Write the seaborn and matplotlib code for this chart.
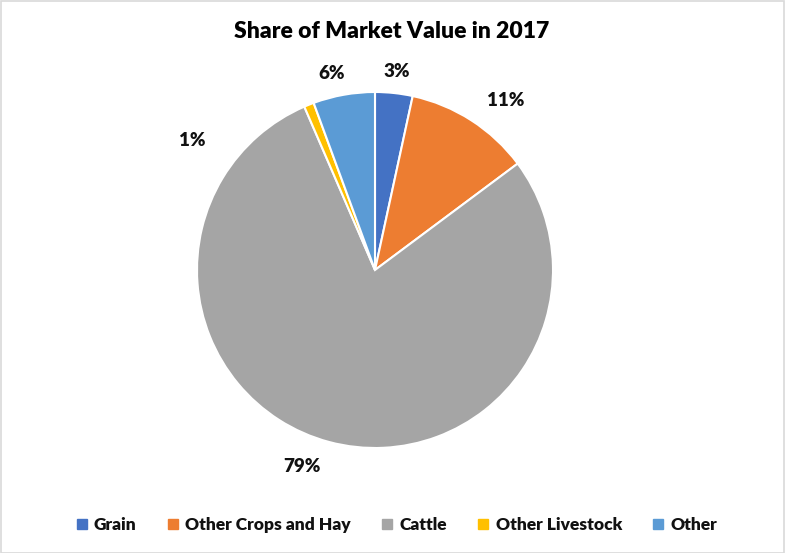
import numpy as np
import matplotlib
matplotlib.use("Agg")
import matplotlib.pyplot as plt
import seaborn as sns
from matplotlib.lines import Line2D
from matplotlib.patches import Rectangle

# Data
categories = ["Grain", "Other Crops and Hay", "Cattle", "Other Livestock", "Other"]
shares = [3.4, 11.4, 78.7, 0.9, 5.6]
colors = ["#4472C4", "#ED7D31", "#A5A5A5", "#FFC000", "#5B9BD5"]
title = "Share of Market Value in 2017"

# Label placement (angle in degrees clockwise from 12 o'clock, radius as pie fraction)
label_angles = [6.3, 37.6, 200.3, 305.4, 347.6]
label_radii = [1.12, 1.20, 1.18, 1.26, 1.13]

sns.set_theme(style="white")
plt.rcParams["font.family"] = ["Lato", "DejaVu Sans"]

W, H = 785, 553
fig = plt.figure(figsize=(W / 100, H / 100), dpi=100)
fig.patch.set_facecolor("white")

cx, cy, R = 375, 270, 178
k = 1.4
side = 2 * R * k
ax = fig.add_axes([(cx - side / 2) / W, (H - cy - side / 2) / H, side / W, side / H])
ax.pie(shares, colors=colors, startangle=90, counterclock=False,
       wedgeprops=dict(edgecolor="white", linewidth=1.5), radius=1.0)
ax.set_xlim(-k, k)
ax.set_ylim(-k, k)
ax.set_aspect("equal")
ax.axis("off")

for v, a, r in zip(shares, label_angles, label_radii):
    th = np.deg2rad(90 - a)
    ax.text(r * np.cos(th), r * np.sin(th), f"{round(v):.0f}%", ha="center", va="center",
            fontsize=13.5, fontweight="heavy", color="#111111")

fig.text(392 / W, 1 - 32 / H, title, ha="center", va="center", fontsize=16.5,
         fontweight="heavy", color="#000000")

handles = [Line2D([0], [0], marker="s", linestyle="none", markersize=6.5,
                  markerfacecolor=c, markeredgecolor=c) for c in colors]
leg = fig.legend(handles, categories, loc="center", bbox_to_anchor=(396 / W, 1 - 525 / H),
                 ncol=5, frameon=False, handlelength=0.8, handletextpad=0.3,
                 columnspacing=1.7, prop=dict(size=12.5, weight="heavy"))
for t in leg.get_texts():
    t.set_color("#111111")

fig.add_artist(Rectangle((0.5 / W, 0.5 / H), 1 - 1.5 / W, 1 - 1.5 / H, transform=fig.transFigure,
                         fill=False, edgecolor="#D9D9D9", linewidth=1.2))

fig.savefig("out.png", dpi=100, facecolor="white")
